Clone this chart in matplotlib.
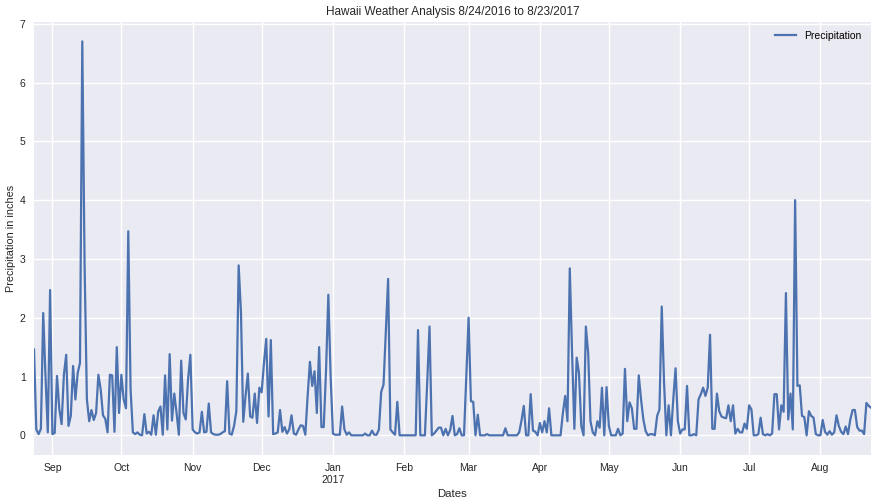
import matplotlib
matplotlib.use("Agg")
import matplotlib.pyplot as plt
import matplotlib.dates as mdates
import numpy as np
import pandas as pd

start_date = "2016-08-24"
end_date = "2017-08-23"
precipitation = [
    1.46, 0.10, 0.02, 0.11, 2.08, 1.00, 0.05, 2.47, 0.02, 0.04,
    1.01, 0.45, 0.19, 1.03, 1.37, 0.16, 0.33, 1.18, 0.61, 1.06,
    1.23, 6.70, 2.90, 0.61, 0.24, 0.43, 0.26, 0.38, 1.03, 0.78,
    0.34, 0.28, 0.05, 1.03, 1.02, 0.06, 1.50, 0.38, 1.03, 0.61,
    0.46, 3.47, 0.78, 0.05, 0.02, 0.05, 0.01, 0.00, 0.36, 0.03,
    0.06, 0.01, 0.34, 0.01, 0.40, 0.49, 0.01, 1.02, 0.10, 1.38,
    0.25, 0.71, 0.38, 0.01, 1.27, 0.38, 0.27, 0.95, 1.37, 0.10,
    0.05, 0.03, 0.05, 0.40, 0.05, 0.06, 0.54, 0.05, 0.02, 0.01,
    0.01, 0.02, 0.05, 0.07, 0.92, 0.03, 0.01, 0.16, 0.41, 2.89,
    2.10, 0.23, 0.67, 1.05, 0.32, 0.30, 0.71, 0.21, 0.81, 0.73,
    1.23, 1.64, 0.32, 1.62, 0.02, 0.03, 0.05, 0.43, 0.06, 0.14,
    0.03, 0.10, 0.34, 0.03, 0.01, 0.10, 0.17, 0.16, 0.01, 0.67,
    1.25, 0.84, 1.09, 0.38, 1.50, 0.14, 0.14, 1.10, 2.39, 1.00,
    0.03, 0.01, 0.01, 0.01, 0.49, 0.10, 0.01, 0.05, 0.00, 0.00,
    0.00, 0.00, 0.00, 0.00, 0.03, 0.00, 0.00, 0.08, 0.01, 0.01,
    0.10, 0.74, 0.86, 1.74, 2.66, 0.10, 0.05, 0.01, 0.57, 0.00,
    0.00, 0.00, 0.00, 0.00, 0.00, 0.00, 0.00, 1.79, 0.00, 0.00,
    0.00, 0.90, 1.85, 0.00, 0.03, 0.08, 0.13, 0.13, 0.00, 0.11,
    0.00, 0.09, 0.33, 0.00, 0.02, 0.12, 0.00, 0.00, 1.00, 2.00,
    0.58, 0.57, 0.00, 0.35, 0.00, 0.00, 0.00, 0.02, 0.00, 0.00,
    0.00, 0.00, 0.00, 0.00, 0.00, 0.12, 0.00, 0.00, 0.00, 0.00,
    0.00, 0.05, 0.25, 0.50, 0.00, 0.00, 0.70, 0.08, 0.06, 0.00,
    0.21, 0.05, 0.24, 0.05, 0.46, 0.00, 0.00, 0.00, 0.00, 0.00,
    0.38, 0.67, 0.24, 2.84, 1.40, 0.11, 1.32, 1.06, 0.16, 0.00,
    1.85, 1.40, 0.24, 0.05, 0.00, 0.24, 0.13, 0.81, 0.00, 0.82,
    0.16, 0.00, 0.00, 0.00, 0.11, 0.00, 0.03, 1.13, 0.24, 0.56,
    0.46, 0.11, 0.11, 1.02, 0.61, 0.27, 0.07, 0.00, 0.02, 0.02,
    0.00, 0.33, 0.44, 2.19, 0.90, 0.00, 0.51, 0.00, 0.61, 1.14,
    0.24, 0.03, 0.10, 0.10, 0.84, 0.00, 0.00, 0.02, 0.00, 0.61,
    0.70, 0.81, 0.67, 0.81, 1.71, 0.11, 0.11, 0.71, 0.41, 0.32,
    0.30, 0.29, 0.51, 0.24, 0.51, 0.03, 0.11, 0.05, 0.05, 0.20,
    0.11, 0.51, 0.44, 0.00, 0.00, 0.02, 0.30, 0.02, 0.00, 0.02,
    0.00, 0.03, 0.70, 0.70, 0.10, 0.51, 0.40, 2.42, 0.27, 0.71,
    0.10, 4.00, 0.84, 0.85, 0.33, 0.31, 0.00, 0.41, 0.33, 0.30,
    0.02, 0.00, 0.00, 0.26, 0.06, 0.01, 0.07, 0.01, 0.05, 0.34,
    0.16, 0.06, 0.02, 0.15, 0.02, 0.27, 0.43, 0.43, 0.14, 0.08,
    0.08, 0.02, 0.55, 0.50, 0.47,
]
yticks = [0, 1, 2, 3, 4, 5, 6, 7]
title = "Hawaii Weather Analysis 8/24/2016 to 8/23/2017"
xlabel = "Dates"
ylabel = "Precipitation in inches"
series_name = "Precipitation"

dates = pd.date_range(start_date, end_date, freq="D")

plt.rcParams['font.family'] = ['Liberation Sans', 'DejaVu Sans']
fig = plt.figure(figsize=(8.78, 5.03), dpi=100)
ax = fig.add_axes([34/878, 1-455/503, (871-34)/878, (455-21.7)/503])
ax.set_facecolor("#EAEAF2")
for s in ax.spines.values():
    s.set_visible(False)

ax.plot(dates, precipitation, color="#4C72B0", linewidth=1.6, label=series_name)

ax.set_xlim(dates[0], dates[-1])
ymax = max(precipitation)
pad = 0.05 * ymax
ax.set_ylim(-pad, ymax + pad)
ax.set_yticks(yticks)

ax.xaxis.set_major_locator(mdates.MonthLocator())
def fmt(x, pos=None):
    d = mdates.num2date(x)
    s = d.strftime("%b")
    if d.month == 1:
        s += "\n" + d.strftime("%Y")
    return s
ax.xaxis.set_major_formatter(plt.FuncFormatter(fmt))

ax.grid(True, color="white", linewidth=1.0)
ax.set_axisbelow(True)
ax.tick_params(axis="both", length=0, labelsize=7.5, colors="#262626", pad=6)
ax.set_title(title, fontsize=8.5, color="#262626", pad=5)
ax.set_xlabel(xlabel, fontsize=8.2, color="#262626", labelpad=3)
ax.set_ylabel(ylabel, fontsize=7.8, color="#262626")
ax.yaxis.set_label_coords(-0.021, 0.5)
leg = ax.legend(loc="upper right", frameon=False, fontsize=7.5)

fig.savefig("out.png", dpi=100)
